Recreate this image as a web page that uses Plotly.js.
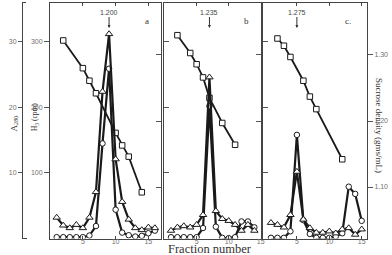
<!DOCTYPE html>
<html>
<head>
<meta charset="utf-8">
<script src="https://cdn.plot.ly/plotly-3.0.1.min.js"></script>
<style>
  html, body { margin: 0; padding: 0; background: #fff; }
  #chart { width: 392px; height: 255px; }
</style>
</head>
<body>
<div id="chart"></div>
<script>
// Sucrose gradient fractionation, three runs (a, b, c)
// H3 counts (cpm), absorbance at 280 nm, sucrose density (g/mL)

// Run a
const fracA = [1, 2, 3, 4, 5, 6, 7, 8, 9, 10, 11, 12, 13, 14, 15, 16];
const cpmA = [2, 2, 2, 2, 2, 4.5, 19, 145, 259, 44, 9, 5, 3, 4, 8, 12];
const a280A = [3.2, 2.0, 1.6, 2.1, 1.6, 3.2, 7.1, 22.4, 31.2, 12.1, 5.6, 2.9, 1.6, 1.3, 1.7, 1.6];
const densFracA = [2, 5, 6, 7, 10, 11, 12, 14];
const densA = [1.322, 1.280, 1.261, 1.242, 1.182, 1.163, 1.146, 1.092];

// Run b
const fracB = [1, 2, 3, 4, 5, 6, 7, 8, 9, 10, 11, 12, 13, 14];
const cpmB = [2, 2, 2, 2, 2, 16, 202, 18, 1, 0.5, 2, 26, 26, 17];
const a280B = [1.2, 1.7, 1.9, 1.7, 2.1, 3.6, 24.6, 4.2, 3.0, 2.7, 2.1, 1.2, 2.1, 1.2];
const densFracB = [2, 4, 5, 6, 7, 9, 11];
const densB = [1.330, 1.303, 1.286, 1.266, 1.235, 1.197, 1.164];

// Run c
const fracC = [1, 2, 3, 4, 5, 6, 7, 8, 9, 10, 11, 12, 13, 14, 15];
const cpmC = [1, 1, 1, 11, 158, 28, 7, 1, 1, 1, 3, 8, 79, 68, 27];
const a280C = [2.4, 2.1, 1.7, 3.6, 10.2, 2.9, 1.6, 0.9, 0.9, 1.1, 0.8, 1.4, 1.6, 0.6, 1.4];
const densFracC = [2, 3, 4, 6, 7, 8, 12];
const densC = [1.325, 1.314, 1.297, 1.261, 1.237, 1.218, 1.142];

// Peak densities marked with arrows
const peakFrac = [9, 7, 5];
const peakLabels = ['1.200', '1.235', '1.275'];
const panelLetters = ['a', 'b', 'c.'];
const fractionTicks = [5, 10, 15];
const cpmTicks = [100, 200, 300];
const a280Ticks = [10, 20, 30];
const densTicks = [1.10, 1.20, 1.30];
const densTickText = ['1.10', '1.20', '1.30'];

const W = 392, H = 255;
const px = v => v / W;
const py = v => (H - v) / H;

const INK = '#1a1a1a';
const GREY = '#707070';

const runs = [
  { frac: fracA, cpm: cpmA, a280: a280A, dFrac: densFracA, dens: densA, xa: 'x',  yc: 'y',  yd: 'y4', ya: 'y7' },
  { frac: fracB, cpm: cpmB, a280: a280B, dFrac: densFracB, dens: densB, xa: 'x2', yc: 'y2', yd: 'y5', ya: 'y8' },
  { frac: fracC, cpm: cpmC, a280: a280C, dFrac: densFracC, dens: densC, xa: 'x3', yc: 'y3', yd: 'y6', ya: 'y9' }
];

const traces = [];
runs.forEach(r => {
  traces.push({
    x: r.frac, y: r.cpm, xaxis: r.xa, yaxis: r.yc, type: 'scatter', mode: 'lines+markers',
    line: { color: INK, width: 2.2 },
    marker: { symbol: 'circle', size: 5.5, color: '#fff', line: { color: INK, width: 1 } },
    hoverinfo: 'skip', showlegend: false
  });
  traces.push({
    x: r.frac, y: r.a280, xaxis: r.xa, yaxis: r.ya, type: 'scatter', mode: 'lines+markers',
    line: { color: INK, width: 2.2 },
    marker: { symbol: 'triangle-up', size: 6.5, color: '#fff', line: { color: INK, width: 1 } },
    hoverinfo: 'skip', showlegend: false
  });
  traces.push({
    x: r.dFrac, y: r.dens, xaxis: r.xa, yaxis: r.yd, type: 'scatter', mode: 'lines+markers',
    line: { color: INK, width: 1.8 },
    marker: { symbol: 'square', size: 5.5, color: '#fff', line: { color: INK, width: 1 } },
    hoverinfo: 'skip', showlegend: false
  });
});

const yDom = [py(238.5), py(2.5)];
const tickFont = { family: 'Liberation Sans, DejaVu Sans, sans-serif', size: 7, color: GREY };

function xAxis(domain, range, anchor) {
  return {
    domain: domain, range: range, anchor: anchor,
    tickvals: fractionTicks, ticks: 'inside', ticklen: 3, tickwidth: 1, tickcolor: '#444',
    ticklabelstandoff: -4,
    mirror: 'ticks', showline: true, linecolor: '#444', linewidth: 1,
    showgrid: false, zeroline: false, tickfont: tickFont, fixedrange: true
  };
}
function cpmAxis(anchor, labelled) {
  return {
    domain: yDom, range: [0, 360], anchor: anchor,
    tickvals: cpmTicks, ticks: labelled ? 'outside' : 'inside', ticklen: 5, tickcolor: '#555',
    showticklabels: labelled, showline: true, linecolor: '#444', linewidth: 1,
    showgrid: false, zeroline: false, tickfont: tickFont
  };
}
function densAxis(over, anchor, labelled) {
  return {
    overlaying: over, anchor: anchor, side: 'right', range: [1.022, 1.3795],
    tickvals: densTicks, ticktext: densTickText, ticks: labelled ? 'outside' : 'inside', ticklen: 5,
    tickcolor: '#555', showticklabels: labelled, showline: true, linecolor: '#444', linewidth: 1,
    showgrid: false, zeroline: false, tickfont: tickFont
  };
}

const layout = {
  width: W, height: H,
  margin: { l: 0, r: 0, t: 0, b: 0 },
  paper_bgcolor: '#fff', plot_bgcolor: 'rgba(0,0,0,0)',
  showlegend: false,
  xaxis: xAxis([px(50), px(161)], [-0.02, 16.93], 'y'),
  xaxis2: xAxis([px(164), px(261)], [-0.09, 15.04], 'y2'),
  xaxis3: xAxis([px(263), px(367)], [-0.23, 15.82], 'y3'),
  yaxis: cpmAxis('x', true),
  yaxis2: cpmAxis('x2', false),
  yaxis3: cpmAxis('x3', false),
  yaxis4: densAxis('y', 'x', false),
  yaxis5: densAxis('y2', 'x2', false),
  yaxis6: densAxis('y3', 'x3', true),
  yaxis7: {
    overlaying: 'y', anchor: 'free', position: px(22), side: 'left', range: [0, 36],
    tickvals: a280Ticks, ticks: 'outside', ticklen: 4, tickcolor: '#555',
    showline: true, linecolor: '#444', linewidth: 1, showgrid: false, zeroline: false, tickfont: tickFont
  },
  yaxis8: { overlaying: 'y2', range: [0, 36], visible: false },
  yaxis9: { overlaying: 'y3', range: [0, 36], visible: false },
  shapes: [
    { type: 'line', xref: 'paper', yref: 'paper', x0: px(22), x1: px(26), y0: yDom[1], y1: yDom[1], line: { color: '#444', width: 1 } },
    { type: 'line', xref: 'paper', yref: 'paper', x0: px(22), x1: px(27), y0: yDom[0], y1: yDom[0], line: { color: '#444', width: 1 } }
  ],
  annotations: []
};

const labelFont = { family: 'Liberation Serif, DejaVu Serif, serif', color: '#333' };

layout.annotations.push(
  { text: 'A<sub>280</sub>', xref: 'paper', yref: 'paper', x: px(6), y: py(124), textangle: -90,
    showarrow: false, font: Object.assign({ size: 9 }, labelFont) },
  { text: 'H<sub>3</sub> (cpm)', xref: 'paper', yref: 'paper', x: px(28), y: py(117), textangle: -90,
    showarrow: false, font: Object.assign({ size: 7.5 }, labelFont) },
  { text: 'Sucrose density (gms/mL)', xref: 'paper', yref: 'paper', x: px(386), y: py(125), textangle: 90,
    showarrow: false, font: Object.assign({ size: 9 }, labelFont) },
  { text: 'Fraction number', xref: 'paper', yref: 'paper', x: px(210), y: py(257.5),
    showarrow: false, font: Object.assign({ size: 12.5 }, labelFont) }
);

const xRefs = ['x', 'x2', 'x3'];
const letterX = [147, 247, 353];
panelLetters.forEach((t, i) => {
  layout.annotations.push({ text: t, xref: 'paper', yref: 'paper', x: px(letterX[i]), y: py(14),
    showarrow: false, font: Object.assign({ size: 9 }, labelFont) });
});
peakLabels.forEach((t, i) => {
  layout.annotations.push({ text: t, xref: xRefs[i], yref: 'paper', x: peakFrac[i], y: py(28),
    showarrow: true, arrowhead: 2, arrowsize: 0.6, arrowwidth: 1, arrowcolor: '#333',
    ax: 0, ay: -16, font: { family: 'Liberation Sans, DejaVu Sans, sans-serif', size: 7, color: '#444' } });
});

Plotly.newPlot('chart', traces, layout, { staticPlot: true, displayModeBar: false });
</script>
</body>
</html>
